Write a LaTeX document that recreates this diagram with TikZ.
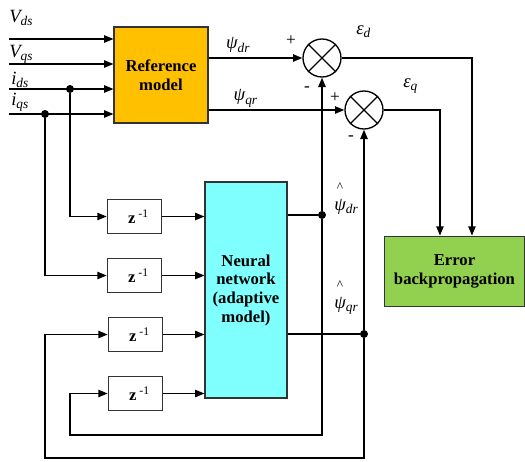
\documentclass[tikz,border=0pt]{standalone}
\usepackage{fontspec}
\setmainfont{Liberation Serif}
\usetikzlibrary{arrows.meta}
\definecolor{refc}{HTML}{FFC000}
\definecolor{nnc}{HTML}{80FFFF}
\definecolor{errc}{HTML}{92D050}
\newcommand{\lowsub}[1]{\raisebox{-0.45ex}{\fontsize{10}{12}\selectfont\itshape #1}}
\begin{document}
\begin{tikzpicture}[x=0.75pt,y=-0.75pt,every node/.style={font=\fontsize{13}{15}\selectfont},
  wire/.style={line width=1.1pt},
  arr/.style={line width=1.1pt,-{Triangle[length=7pt,width=5.5pt]}},
  block/.style={draw=black!80,line width=0.8pt,align=center,font=\fontsize{12.5}{14}\selectfont\bfseries},
  delay/.style={block,fill=white,minimum width=41pt,minimum height=26pt},
  summer/.style={circle,draw,line width=1pt,minimum size=28.5pt,inner sep=0pt},
  dot/.style={circle,fill,inner sep=0pt,minimum size=6pt},
  lbl/.style={anchor=base west,inner sep=0pt,font=\fontsize{14}{16}\selectfont\itshape}]
   \useasboundingbox (0,0) rectangle (525,461);
   % blocks
   \node [block,fill=refc,minimum width=70.5pt,minimum height=72pt] (ref) at (161,75) {Reference\\model};
   \node [block,fill=nnc,minimum width=61.5pt,minimum height=162pt] (nn) at (246,290) {Neural\\network\\(adaptive\\model)};
   \node [block,fill=errc,minimum width=105pt,minimum height=53pt] (err) at (454.5,271.5) {Error\\backpropagation};
   \foreach \n/\x/\y in {1/134.5/216.5,2/134.5/275.5,3/135.5/334.5,4/135.5/393.5}
     \node [delay] (z\n) at (\x,\y) {\hspace{6pt}z\,{\mdseries\textsuperscript{-1}}};
   \node [summer] (s1) at (322,58) {};
   \node [summer] (s2) at (364,110) {};
   \draw [line width=1pt] (s1.north east) -- (s1.south west) (s1.north west) -- (s1.south east);
   \draw [line width=1pt] (s2.north east) -- (s2.south west) (s2.north west) -- (s2.south east);
   \node [dot] (a1) at (70,89) {};
   \node [dot] (a2) at (45,114) {};
   \node [dot] (d1) at (322,215) {};
   \node [dot] (d2) at (364,334) {};
   \coordinate (c1) at (70,435);
   \coordinate (c2) at (45,458);
   % inputs
   \foreach \y/\name in {39/vds,64/vqs,89/ids,114/iqs} {
     \coordinate (\name) at (9,\y);
     \draw [arr] (\name) -- (\name -| ref.west);
   }
   \node [lbl] at (9,22) {V\lowsub{ds}};
   \node [lbl] at (9,57) {V\lowsub{qs}};
   \node [lbl] at (11,84) {i\lowsub{ds}};
   \node [lbl] at (11,105) {i\lowsub{qs}};
   % reference outputs and errors
   \draw [arr] (ref.east |- s1) -- (s1.west) node[lbl,pos=0.18,yshift=7pt] {ψ\lowsub{dr}};
   \draw [arr] (ref.east |- s2) -- (s2.west) node[lbl,pos=0.18,yshift=7pt] {ψ\lowsub{qr}};
   \draw [arr] (s1.east) -| ([xshift=13.1pt]err.north);
   \draw [arr] (s2.east) -| ([xshift=-10.9pt]err.north);
   \node at (291,41) {+};
   \node at (307,89) {-};
   \node at (335,98) {+};
   \node at (351,138) {-};
   \node [lbl] at (356,34) {ε\lowsub{d}};
   \node [lbl] at (403,87) {ε\lowsub{q}};
   % delays
   \draw [arr] (a1) |- (z1.west);
   \draw [arr] (a2) |- (z2.west);
   \foreach \n in {1,...,4}
     \draw [arr] (z\n.east) -- (z\n.east -| nn.west);
   % adaptive model outputs and feedback
   \draw [line width=0.8pt] (nn.east |- d1) -- (d1);
   \draw [line width=0.8pt] (nn.east |- d2) -- (d2);
   \draw [arr] (d1) -- (s1.south);
   \draw [arr] (d2) -- (s2.south);
   \draw [arr] (d1) |- (c1) |- (z4.west);
   \draw [arr] (d2) |- (c2) |- (z3.west);
   \node [inner sep=0pt,font=\fontsize{10}{10}\selectfont] at (340,187) {\^{}};
   \node [inner sep=0pt,font=\fontsize{10}{10}\selectfont] at (340,285) {\^{}};
   \node [lbl] at (334,210) {ψ\lowsub{dr}};
   \node [lbl] at (334,308) {ψ\lowsub{qr}};
\end{tikzpicture}
\end{document}
